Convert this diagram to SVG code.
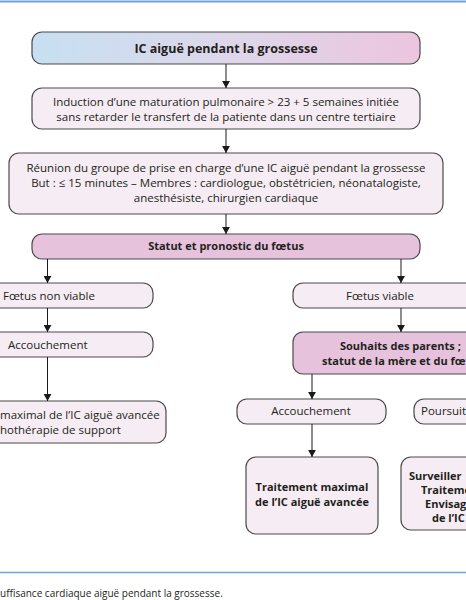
<svg xmlns="http://www.w3.org/2000/svg" width="466" height="600" viewBox="0 0 466 600">
<defs>
<linearGradient id="gTitle" x1="0" y1="0" x2="1" y2="0">
<stop offset="0" stop-color="#c6e0f1"/>
<stop offset="0.5" stop-color="#ddd7ea"/>
<stop offset="1" stop-color="#ecc5df"/>
</linearGradient>
<marker id="ah" viewBox="0 0 8 9" refX="8" refY="4.5" markerWidth="7" markerHeight="8" orient="auto" markerUnits="userSpaceOnUse">
<path d="M0,0 L8,4.5 L0,9 Z" fill="#1a1a1a"/>
</marker>
</defs>
<style>
.box{fill:#f6ecf3;stroke:#4a4a4a;stroke-width:1.2}
.dark{fill:#e6c2dc;stroke:#4a4a4a;stroke-width:1.2}
.t{font-family:"Open Sans","Liberation Sans",sans-serif;font-size:11.5px;fill:#231f20;text-anchor:middle}
.b{font-weight:bold;font-size:11px}
.l{text-anchor:start}
.c{stroke:#1a1a1a;stroke-width:1;fill:none;marker-end:url(#ah)}
.rule{stroke:#6ea3d9;fill:none}
</style>
<rect width="466" height="600" fill="#ffffff"/>
<line class="rule" x1="0" y1="1.5" x2="466" y2="1.5" stroke-width="2"/>
<line class="rule" x1="0" y1="572.5" x2="466" y2="572.5" stroke-width="1.5"/>

<g id="title">
<rect x="32" y="32" width="388" height="32" rx="10" fill="url(#gTitle)" stroke="#4a4a4a" stroke-width="1.2"/>
<text class="t b" x="226" y="52.5" style="font-size:12.5px">IC aiguë pendant la grossesse</text>
</g>
<g id="induction">
<rect class="box" x="32" y="88" width="388" height="41" rx="10"/>
<text class="t" x="226" y="106">Induction d’une maturation pulmonaire &gt; 23 + 5 semaines initiée</text>
<text class="t" x="226" y="121">sans retarder le transfert de la patiente dans un centre tertiaire</text>
</g>
<g id="reunion">
<rect class="box" x="9" y="153" width="434" height="61" rx="10"/>
<text class="t" x="226" y="172">Réunion du groupe de prise en charge d’une IC aiguë pendant la grossesse</text>
<text class="t" x="226" y="187">But : ≤ 15 minutes – Membres : cardiologue, obstétricien, néonatalogiste,</text>
<text class="t" x="226" y="202">anesthésiste, chirurgien cardiaque</text>
</g>
<g id="statut">
<rect class="dark" x="32" y="234" width="388" height="25" rx="10"/>
<text class="t b" x="226" y="250">Statut et pronostic du fœtus</text>
</g>
<g id="nonviable">
<rect class="box" x="-30" y="283" width="183" height="25" rx="10"/>
<text class="t l" x="3" y="299.5">Fœtus non viable</text>
</g>
<g id="accouchement-gauche">
<rect class="box" x="-30" y="332" width="183" height="25" rx="10"/>
<text class="t l" x="8" y="348.5">Accouchement</text>
</g>
<g id="traitement-gauche">
<rect class="box" x="-30" y="401" width="196" height="42" rx="10"/>
<text class="t l" x="0" y="419">maximal de l’IC aiguë avancée</text>
<text class="t l" x="0" y="434">hothérapie de support</text>
</g>
<g id="viable">
<rect class="box" x="293" y="283" width="200" height="25" rx="10"/>
<text class="t" x="380" y="299.5">Fœtus viable</text>
</g>
<g id="souhaits">
<rect class="dark" x="293" y="332" width="200" height="42" rx="10"/>
<text class="t b l" x="340" y="350">Souhaits des parents ;</text>
<text class="t b l" x="322" y="365">statut de la mère et du fœt</text>
</g>
<g id="accouchement-droite">
<rect class="box" x="237" y="399" width="149" height="25" rx="10"/>
<text class="t" x="311" y="415">Accouchement</text>
</g>
<g id="poursuite">
<rect class="box" x="414" y="399" width="80" height="25" rx="10"/>
<text class="t l" x="421" y="415">Poursuit</text>
</g>
<g id="traitement-droite">
<rect class="box" x="246" y="457" width="132" height="77" rx="10"/>
<text class="t b" x="312" y="491">Traitement maximal</text>
<text class="t b" x="312" y="506">de l’IC aiguë avancée</text>
</g>
<g id="surveiller">
<rect class="box" x="401" y="457" width="100" height="73" rx="10"/>
<text class="t b l" x="409" y="480">Surveiller</text>
<text class="t b l" x="421" y="494">Traiteme</text>
<text class="t b l" x="425" y="508">Envisag</text>
<text class="t b l" x="432" y="522">de l’IC</text>
</g>

<g id="connectors">
<line class="c" x1="226" y1="64" x2="226" y2="88"/>
<line class="c" x1="226" y1="129" x2="226" y2="153"/>
<line class="c" x1="226" y1="214" x2="226" y2="234"/>
<line class="c" x1="47.5" y1="259" x2="47.5" y2="283"/>
<line class="c" x1="401" y1="259" x2="401" y2="283"/>
<line class="c" x1="47.5" y1="308" x2="47.5" y2="332"/>
<line class="c" x1="47.5" y1="357" x2="47.5" y2="401"/>
<line class="c" x1="401" y1="308" x2="401" y2="332"/>
<line class="c" x1="312" y1="374" x2="312" y2="399"/>
<line class="c" x1="312" y1="424" x2="312" y2="457"/>
</g>

<text class="t l" x="0" y="597" style="font-size:10px">uffisance cardiaque aiguë pendant la grossesse.</text>
</svg>
